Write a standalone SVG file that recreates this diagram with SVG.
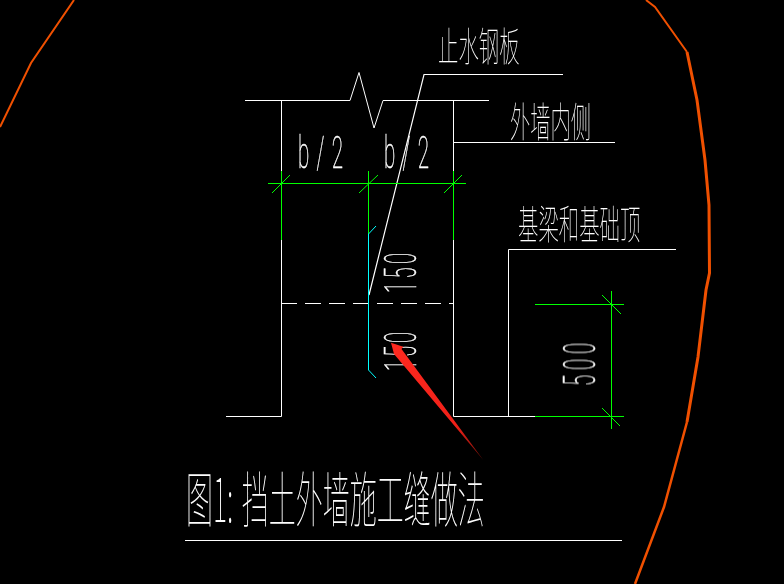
<svg xmlns="http://www.w3.org/2000/svg" width="784" height="584" viewBox="0 0 784 584">
<style>
.w{fill:none;stroke:#fff;stroke-width:1}
.s{fill:none;stroke:#fff;stroke-width:1.2}
.g{fill:none;stroke:#0f0;stroke-width:1}
.c{fill:none;stroke:#0ff;stroke-width:1}
.o{fill:none;stroke:#f05000}
text{fill:#fff;font-family:"Noto Sans CJK SC","Liberation Sans",sans-serif;font-weight:100}
.l{font-family:Roboto,"Liberation Sans",sans-serif;font-weight:100;stroke:#fff;stroke-width:.5}
</style>
<defs>
<linearGradient id="fade" gradientUnits="userSpaceOnUse" x1="392" y1="343" x2="483" y2="460">
<stop offset="0" stop-color="#ff2a20"/><stop offset=".7" stop-color="#f02018"/><stop offset="1" stop-color="#701008"/>
</linearGradient>
</defs>
<rect width="784" height="584" fill="#000"/>
<g id="boundary">
<path class="o" stroke-width="2" d="M74 0L31 63L0 127"/>
<path class="o" stroke-width="2" d="M646 0L655 7L687 52"/>
<path class="o" stroke-width="3" d="M687 52L697 100L705 160L709 205L709.500 273L706 290L698 357L687 422"/>
<path class="o" stroke-width="2.500" d="M687 422L664 507L635 584"/>
</g>
<g id="wall">
<path class="w" d="M245 100.500H350L359 72.500L374 128L383 100.500H489"/>
<path class="w" d="M281.500 100V171M453.500 100V171M454 142.500H615"/>
<path class="w" d="M281.500 240V416.500H226M453.500 240V416.500H536M508.500 416V249.500H676"/>
<path class="w" d="M281 303.500H453" stroke-dasharray="16 8"/>
<path class="s" d="M369 295L424 74.500H563"/>
</g>
<g id="dimensions">
<path class="g" d="M268 183.500H466M281.500 171V240M368.500 171V234M453.500 171V240"/>
<path class="g" d="M272 193L290 175M359 193L378 175M444 193L462 175"/>
<path class="g" d="M535 304.500H624M535 416.500H624M611.500 291V429M602 295L621 314M602 408L620 426"/>
<path class="c" d="M368.500 234V370L376 378M368.500 234L376 226"/>
</g>
<g id="labels" opacity=".995">
<text font-size="40" transform="translate(438 61) scale(.51 1)">止水钢板</text>
<text font-size="41" transform="translate(510 137) scale(.495 1)">外墙内侧</text>
<text font-size="40" transform="translate(518 239) scale(.51 1)">基梁和基础顶</text>
<text class="l" font-size="44" textLength="96" transform="translate(298 168) scale(.47 1)">b/2</text>
<text class="l" font-size="44" textLength="96" transform="translate(384 168) scale(.47 1)">b/2</text>
<text class="l" font-size="45" textLength="89" transform="translate(416 293) rotate(-90) scale(.45 1)">150</text>
<text class="l" font-size="45" textLength="87" transform="translate(416 371) rotate(-90) scale(.45 1)">150</text>
<text class="l" font-size="45" textLength="96" transform="translate(595 386) rotate(-90) scale(.45 1)">500</text>
<text font-size="60" transform="translate(186 522) scale(.45 1)"><tspan x="0">图1:</tspan><tspan x="124">挡土外墙施工缝做法</tspan></text>
</g>
<path id="title-rule" class="w" d="M185 540.500H622"/>
<path id="arrow" d="M391 342.700L403.300 346.700L401.500 349L483.300 460L394 354Z" fill="url(#fade)"/>
</svg>
